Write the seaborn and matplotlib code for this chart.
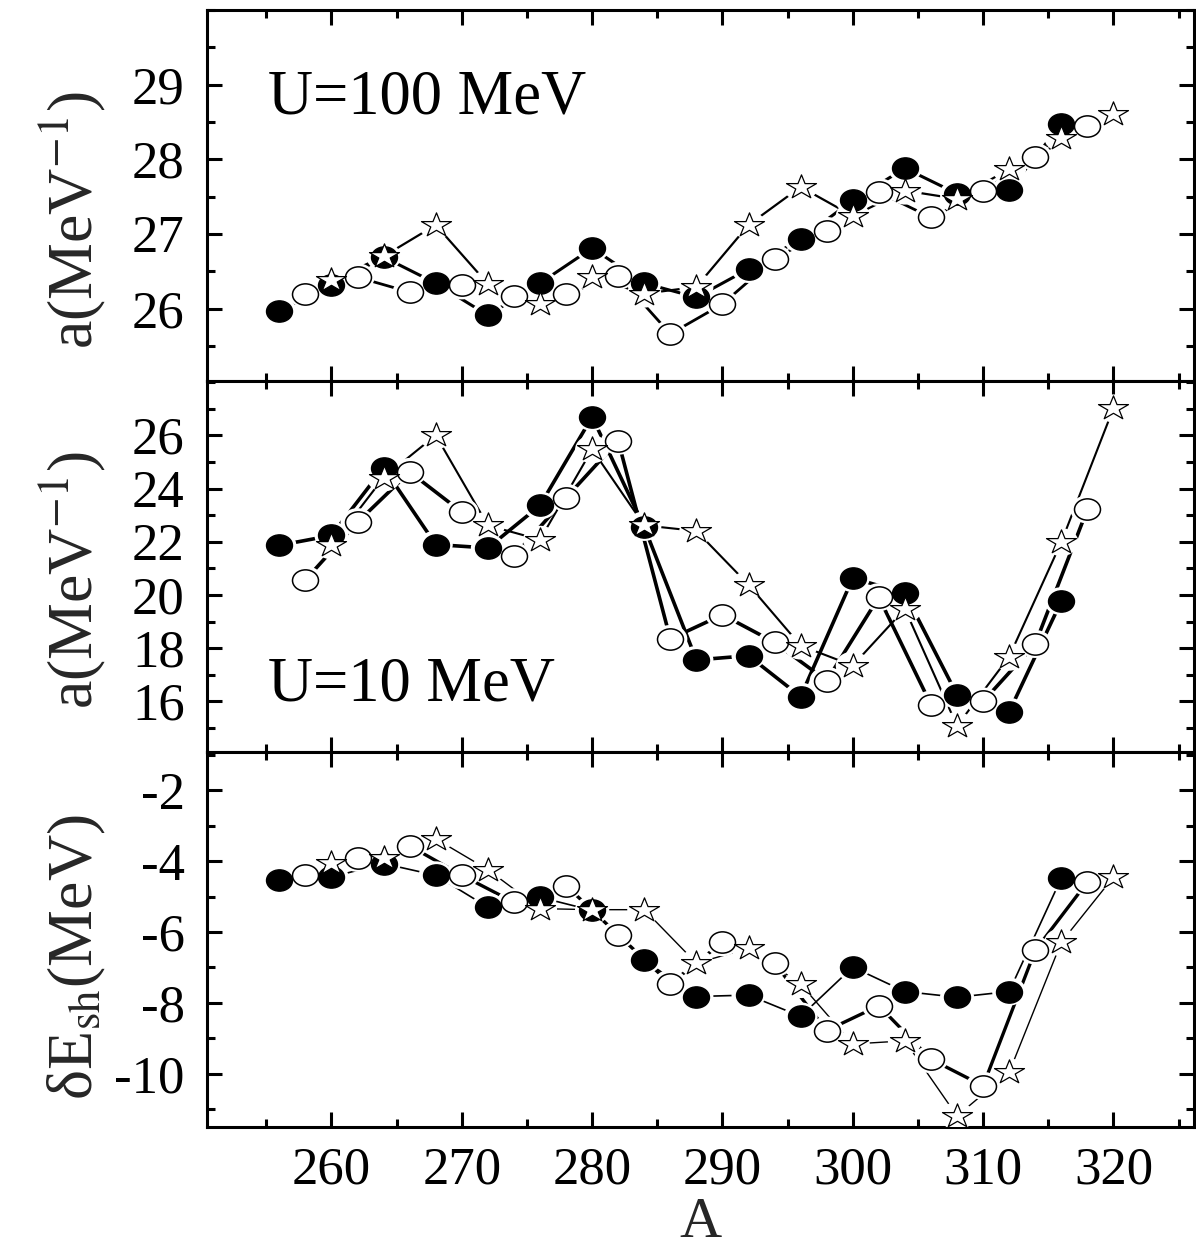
import matplotlib
matplotlib.use("Agg")
import matplotlib.pyplot as plt
from matplotlib.markers import MarkerStyle
from matplotlib.path import Path
from matplotlib.ticker import MultipleLocator, FixedLocator
import seaborn as sns

# Mass numbers of the three isotope chains
A_filled = [256, 260, 264, 268, 272, 276, 280, 284, 288, 292, 296, 300, 304, 308, 312, 316]
A_open = [258, 262, 266, 270, 274, 278, 282, 286, 290, 294, 298, 302, 306, 310, 314, 318]
A_star = [260, 264, 268, 272, 276, 280, 284, 288, 292, 296, 300, 304, 308, 312, 316, 320]

# Level density parameter at U = 100 MeV
a100_filled = [25.97, 26.31, 26.69, 26.34, 25.91, 26.34, 26.81, 26.34, 26.15, 26.53, 26.93, 27.45, 27.88, 27.54, 27.59, 28.47]
a100_open = [26.20, 26.42, 26.22, 26.31, 26.17, 26.20, 26.44, 25.66, 26.06, 26.67, 27.04, 27.56, 27.22, 27.57, 28.03, 28.45]
a100_star = [26.38, 26.70, 27.12, 26.33, 26.06, 26.42, 26.20, 26.29, 27.12, 27.63, 27.24, 27.58, 27.47, 27.87, 28.29, 28.61]

# Level density parameter at U = 10 MeV
a10_filled = [21.87, 22.24, 24.79, 21.90, 21.77, 23.37, 26.70, 22.56, 17.56, 17.72, 16.18, 20.64, 20.07, 16.25, 15.61, 19.77]
a10_open = [20.57, 22.74, 24.63, 23.12, 21.46, 23.66, 25.80, 18.35, 19.26, 18.22, 16.78, 19.92, 15.88, 16.00, 18.16, 23.22]
a10_star = [21.87, 24.42, 26.01, 22.62, 22.08, 25.48, 22.62, 22.41, 20.39, 18.10, 17.35, 19.48, 15.08, 17.68, 21.99, 27.02]

# Shell correction energy
esh_filled = [-4.54, -4.45, -4.07, -4.40, -5.30, -5.02, -5.39, -6.79, -7.82, -7.78, -8.38, -6.99, -7.68, -7.84, -7.68, -4.48]
esh_open = [-4.38, -3.91, -3.57, -4.40, -5.16, -4.69, -6.08, -7.46, -6.29, -6.88, -8.78, -8.08, -9.59, -10.34, -6.52, -4.59]
esh_star = [-4.04, -3.90, -3.37, -4.24, -5.34, -5.37, -5.37, -6.88, -6.46, -7.47, -9.16, -9.07, -11.19, -9.96, -6.29, -4.45]

x_ticks = [260, 270, 280, 290, 300, 310, 320]
panel_text = ["U=100 MeV", "U=10 MeV", None]
y_labels = [r"a(MeV$^{-1}$)", r"a(MeV$^{-1}$)", r"δE$_{\rm sh}$(MeV)"]

sns.set_theme(style="ticks")
SERIF = ["Liberation Serif", "DejaVu Serif"]
plt.rcParams["font.family"] = SERIF
plt.rcParams["mathtext.fontset"] = "stix"
plt.rcParams["axes.unicode_minus"] = False


def stretched(path, sx):
    v = path.vertices.copy()
    v[:, 0] *= sx
    return Path(v, path.codes)


ellipse_m = MarkerStyle(stretched(Path.unit_circle(), 1.22))
star_m = MarkerStyle(stretched(Path.unit_regular_star(5, 0.381966), 1.25))

fig, axes = plt.subplots(3, 1, figsize=(11.96, 12.48), dpi=100, sharex=True,
                         gridspec_kw=dict(height_ratios=[371, 371, 375], hspace=0))
fig.subplots_adjust(left=0.1731, right=0.9985, top=0.992, bottom=0.097)

panels = [
    (a100_filled, a100_open, a100_star, (2.2, 2.0, 1.6), (25.03, 30.0), [26, 27, 28, 29], 0.5),
    (a10_filled, a10_open, a10_star, (2.6, 2.6, 1.5), (14.1, 28.05), [16, 18, 20, 22, 24, 26], 1.0),
    (esh_filled, esh_open, esh_star, (1.2, 2.4, 1.0), (-11.5, -0.92), [-10, -8, -6, -4, -2], 1.0),
]
label_y = [0.434, 0.464, 0.453]

for i, (ax, (yf, yo, ys, lws, ylim, yt, ymin)) in enumerate(zip(axes, panels)):
    series = [(A_filled, yf, lws[0]), (A_open, yo, lws[1]), (A_star, ys, lws[2])]
    # connecting lines
    for xs, yv, lw in series:
        sns.lineplot(x=xs, y=yv, ax=ax, color="black", linewidth=lw, sort=False,
                     estimator=None, legend=False, zorder=2)
    # white gaps around the symbols
    for xs, yv, _ in series:
        sns.scatterplot(x=xs, y=yv, ax=ax, marker=ellipse_m, s=34 ** 2 * 0.52,
                        color="white", edgecolor="none", linewidth=0, legend=False, zorder=3)
    # symbols
    sns.scatterplot(x=A_filled, y=yf, ax=ax, marker=ellipse_m, s=18.7 ** 2,
                    color="black", edgecolor="black", linewidth=1.0, legend=False, zorder=4)
    sns.scatterplot(x=A_open, y=yo, ax=ax, marker=ellipse_m, s=18.7 ** 2,
                    color="white", edgecolor="black", linewidth=1.1, legend=False, zorder=5)
    sns.scatterplot(x=A_star, y=ys, ax=ax, marker=star_m, s=21.6 ** 2,
                    color="white", edgecolor="black", linewidth=0.9, legend=False, zorder=6)

    ax.set_xlim(250.45, 326.2)
    ax.set_ylim(*ylim)
    ax.yaxis.set_major_locator(FixedLocator(yt))
    ax.yaxis.set_minor_locator(MultipleLocator(ymin))
    ax.xaxis.set_major_locator(FixedLocator(x_ticks))
    ax.xaxis.set_minor_locator(MultipleLocator(5))
    ax.tick_params(which="both", direction="in", top=True, right=True, width=2.2,
                   color="black", labelsize=38, labelcolor="black")
    ax.tick_params(which="major", length=11, pad=14)
    ax.tick_params(which="minor", length=6)
    ax.tick_params(axis="y", which="major", pad=16)
    for sp in ax.spines.values():
        sp.set_linewidth(2.2)
        sp.set_color("black")
    ax.set_ylabel(y_labels[i], fontsize=46, va="baseline", family=SERIF)
    ax.yaxis.set_label_coords(-0.1164, label_y[i])
    ax.set_xlabel("")
    if panel_text[i]:
        ypos = 0.722 if i == 0 else 0.14
        ax.text(0.0617, ypos, panel_text[i], transform=ax.transAxes, fontsize=45,
                ha="left", va="baseline", color="black", family=SERIF)

axes[2].set_xlabel("A", fontsize=42, family=SERIF, labelpad=2)

fig.savefig("out.png", dpi=100)
